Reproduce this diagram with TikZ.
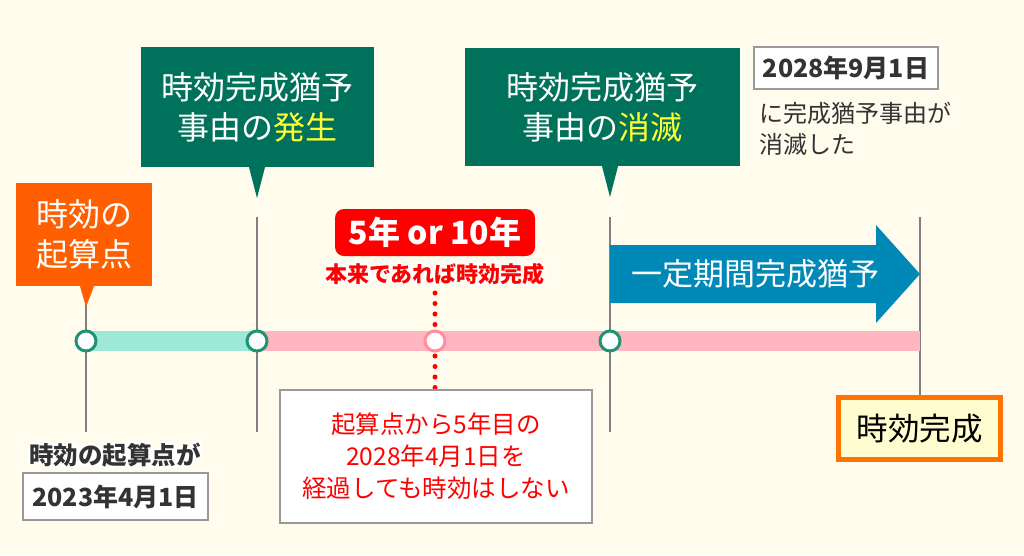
\documentclass[tikz,border=0pt]{standalone}
\usepackage{fontspec}
\setmainfont{Noto Sans CJK JP}
\usetikzlibrary{positioning}

\definecolor{bgcol}{HTML}{FFFCEE}
\definecolor{korange}{HTML}{FF5F00}
\definecolor{kgreen}{HTML}{00715A}
\definecolor{kteal}{HTML}{9DE8D6}
\definecolor{kpink}{HTML}{FFB6C1}
\definecolor{kring}{HTML}{1E9474}
\definecolor{kpring}{HTML}{FF8F9E}
\definecolor{kred}{HTML}{FF0000}
\definecolor{kblue}{HTML}{0089B7}
\definecolor{kyellow}{HTML}{FFFF33}
\definecolor{kgrey}{HTML}{808080}
\definecolor{kdark}{HTML}{333333}
\definecolor{kdone}{HTML}{FF7300}
\definecolor{kcream}{HTML}{FFFDD0}

\tikzset{
  tick/.style={draw=kgrey, line width=2pt},
  ring/.style={circle, draw=kring, line width=3pt, fill=white, minimum size=20pt, inner sep=0},
  pring/.style={ring, draw=kpring},
  callout/.style={fill=kgreen, text=white, align=center, inner sep=0,
    font=\fontsize{32}{40}\selectfont},
  datebox/.style={draw=kgrey!80, line width=1.5pt, fill=white, text=kdark, inner sep=0,
    font=\bfseries\fontsize{25}{28}\selectfont},
  dots/.style={draw=kred, line width=5pt, line cap=round, dash pattern=on 0pt off 10.5pt},
}

\begin{document}
\begin{tikzpicture}[x=1pt,y=-1pt]
\fill[bgcol] (0,0) rectangle (1024,555);
\useasboundingbox (0,0) rectangle (1024,555);

% grey vertical lines
\coordinate (s) at (86,341);
\coordinate (a) at (257,341);
\coordinate (b) at (610,341);
\coordinate (e) at (920,341);
\coordinate (m) at (435,341);
\draw[tick] (86,300) -- (86,432);
\draw[tick] (257,217) -- (257,432);
\draw[tick] (610,217) -- (610,432);
\draw[tick] (920,217) -- (920,396);

% time band
\fill[kteal] (86,331) rectangle (257,351);
\fill[kpink] (257,331) rectangle (920,351);

% red dotted marker
\draw[dots] (435,293) -- (435,326);
\draw[dots] (435,356) -- (435,388);

\node[ring] (rs) at (s) {};
\node[ring] (ra) at (a) {};
\node[ring] (rb) at (b) {};
\node[pring] (rm) at (m) {};

% start label
\node[callout, fill=korange, minimum width=136pt, minimum height=103pt] (start) at (84,234.5) {時効の\\起算点};
\fill[korange] ([xshift=-6pt]start.south -| rs) -- ([xshift=8pt]start.south -| rs) -- (86,307) -- cycle;

% suspension begins
\node[callout, minimum width=233pt, minimum height=120pt] (begin) at (257.5,107) {時効完成猶予\\事由の\textcolor{kyellow}{発生}};
\fill[kgreen] ([xshift=-8pt]begin.south -| ra) -- ([xshift=8pt]begin.south -| ra) -- (257,198) -- cycle;

% suspension ends
\node[callout, minimum width=275pt, minimum height=118pt] (end) at (602.5,107) {時効完成猶予\\事由の\textcolor{kyellow}{消滅}};
\fill[kgreen] ([xshift=-8pt]end.south -| rb) -- ([xshift=8pt]end.south -| rb) -- (610,197) -- cycle;

% top right date
\node[datebox, minimum width=184pt, minimum height=42pt] (enddate) at (846,68) {2028年9月1日};
\node[anchor=west, align=left, text=kdark, inner sep=0, font=\fontsize{24}{31}\selectfont] (endnote) at (759,129) {に完成猶予事由が\\消滅した};

% 5 or 10 years
\node[fill=kred, rounded corners=9pt, text=white, minimum width=200pt, minimum height=47pt, inner sep=0,
  font=\bfseries\fontsize{32}{34}\selectfont] (span) at (435,232.5) {5年 or 10年};
\foreach \a in {0,45,...,315}
  \node[text=white, font=\bfseries\fontsize{22}{24}\selectfont] at ([shift={(\a:2.5)}]435,274) {本来であれば時効完成};
\node[text=kred, font=\bfseries\fontsize{22}{24}\selectfont] (normal) at (435,274) {本来であれば時効完成};

% note box
\node[draw=kgrey!80, line width=2pt, fill=white, text=kred, align=center, inner sep=0,
  minimum width=312pt, minimum height=133pt, font=\fontsize{24.5}{32}\selectfont] (note) at (436,456.5)
  {起算点から5年目の\\2028年4月1日を\\経過しても時効はしない};

% start date
\foreach \a in {0,45,...,315}
  \node[text=white, font=\bfseries\fontsize{24.5}{26}\selectfont] at ([shift={(\a:2.5)}]115,455) {時効の起算点が};
\node[text=kdark, font=\bfseries\fontsize{24.5}{26}\selectfont] (startnote) at (115,455) {時効の起算点が};
\node[datebox, minimum width=185pt, minimum height=47pt] (startdate) at (115.5,496.5) {2023年4月1日};

% fixed-period suspension arrow
\fill[kblue] (610,245) -- (876,245) -- (876,225) -- (920,274) -- (876,323) -- (876,303) -- (610,303) -- cycle;
\node[text=white, font=\fontsize{31}{34}\selectfont] (period) at (755,274) {一定期間完成猶予};

% completion
\node[draw=kdone, line width=5pt, fill=kcream, inner sep=0, minimum width=162pt, minimum height=62pt,
  font=\fontsize{31.5}{34}\selectfont] (done) at (919.5,428.5) {時効完成};
\end{tikzpicture}
\end{document}
